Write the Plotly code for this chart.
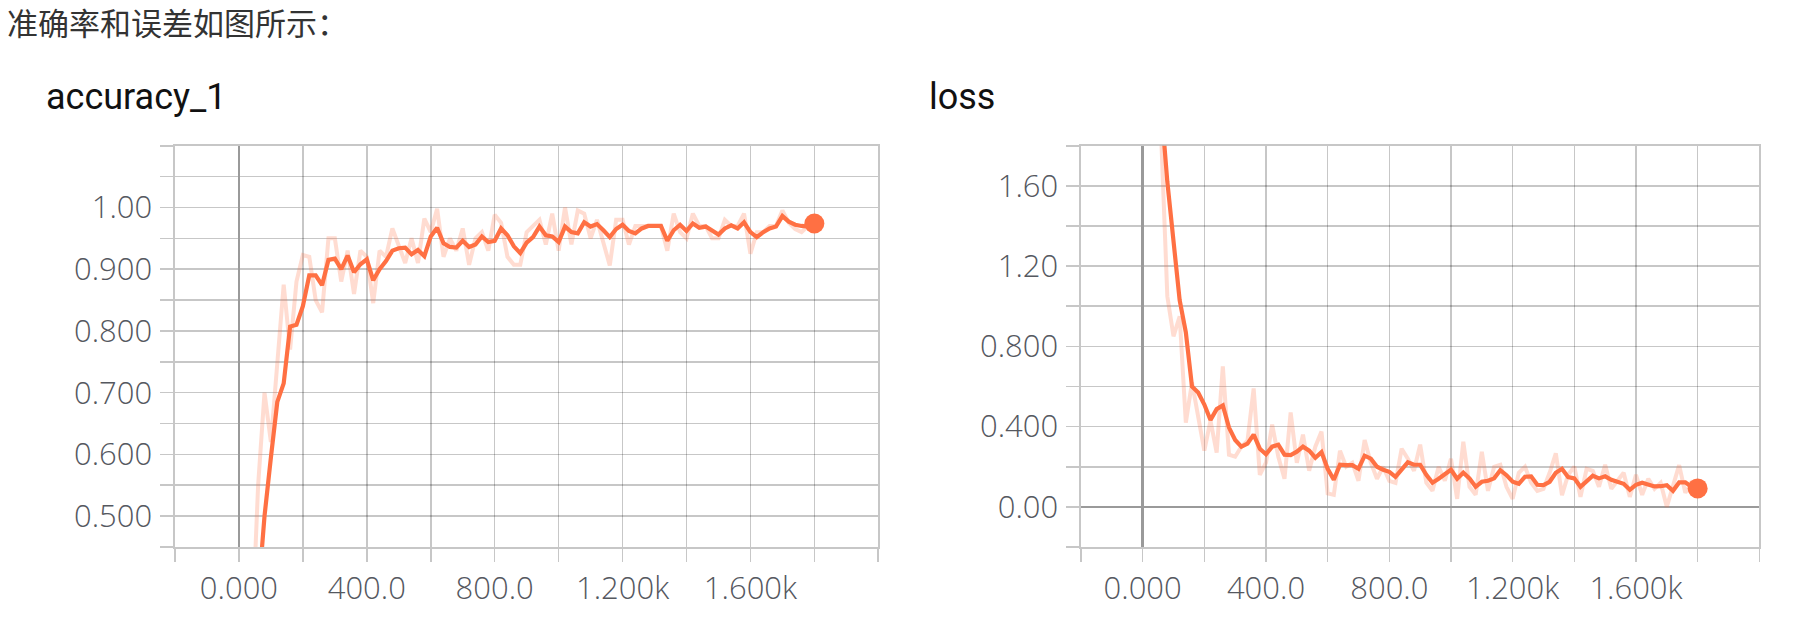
import plotly.graph_objects as go

# ---------------- data ----------------
steps = list(range(0, 1801, 20))

acc_smooth = [
    0.10, 0.16, 0.25, 0.37, 0.50, 0.595, 0.685, 0.715, 0.807, 0.81,
    0.84, 0.89, 0.89, 0.874, 0.915, 0.917, 0.90, 0.922, 0.895, 0.908,
    0.916, 0.882, 0.900, 0.913, 0.930, 0.934, 0.935, 0.924, 0.931, 0.921,
    0.953, 0.967, 0.942, 0.936, 0.935, 0.946, 0.936, 0.940, 0.953, 0.944,
    0.946, 0.966, 0.955, 0.937, 0.926, 0.943, 0.952, 0.969, 0.955, 0.953,
    0.944, 0.969, 0.960, 0.958, 0.976, 0.969, 0.973, 0.963, 0.952, 0.965,
    0.972, 0.962, 0.958, 0.966, 0.970, 0.970, 0.970, 0.946, 0.963, 0.972,
    0.962, 0.974, 0.967, 0.969, 0.962, 0.956, 0.966, 0.971, 0.966, 0.976,
    0.960, 0.952, 0.960, 0.966, 0.969, 0.986, 0.977, 0.972, 0.970, 0.969,
    0.974,
]
acc_raw = [
    0.10, 0.20, 0.30, 0.55, 0.70, 0.62, 0.74, 0.875, 0.77, 0.88,
    0.923, 0.92, 0.85, 0.83, 0.95, 0.95, 0.88, 0.93, 0.86, 0.93,
    0.92, 0.845, 0.93, 0.92, 0.966, 0.94, 0.91, 0.95, 0.91, 0.982,
    0.96, 0.998, 0.92, 0.95, 0.93, 0.966, 0.907, 0.95, 0.96, 0.93,
    0.988, 0.975, 0.92, 0.907, 0.907, 0.96, 0.97, 0.98, 0.94, 0.99,
    0.93, 1.00, 0.94, 0.995, 0.99, 0.95, 0.98, 0.94, 0.906, 0.98,
    0.98, 0.94, 0.97, 0.97, 0.97, 0.97, 0.97, 0.93, 0.99, 0.96,
    0.95, 0.99, 0.97, 0.97, 0.95, 0.95, 0.98, 0.97, 0.97, 0.99,
    0.925, 0.96, 0.96, 0.97, 0.97, 0.995, 0.975, 0.965, 0.96, 0.97,
    0.975,
]
loss_smooth = [
    2.30, 2.28, 2.20, 2.00, 1.62, 1.34, 1.03, 0.87, 0.60, 0.57,
    0.51, 0.433, 0.487, 0.505, 0.395, 0.333, 0.300, 0.315, 0.360, 0.290,
    0.262, 0.300, 0.310, 0.260, 0.258, 0.275, 0.300, 0.280, 0.245, 0.273,
    0.190, 0.135, 0.210, 0.208, 0.208, 0.190, 0.255, 0.240, 0.200, 0.185,
    0.175, 0.150, 0.190, 0.222, 0.210, 0.210, 0.160, 0.120, 0.140, 0.160,
    0.185, 0.140, 0.170, 0.142, 0.100, 0.125, 0.130, 0.142, 0.183, 0.158,
    0.125, 0.115, 0.150, 0.152, 0.110, 0.108, 0.125, 0.170, 0.190, 0.148,
    0.142, 0.100, 0.130, 0.155, 0.142, 0.152, 0.135, 0.125, 0.115, 0.085,
    0.110, 0.120, 0.110, 0.102, 0.103, 0.108, 0.080, 0.122, 0.122, 0.100,
    0.092,
]
loss_raw = [
    2.30, 2.25, 2.10, 1.85, 1.05, 0.85, 0.95, 0.42, 0.62, 0.45,
    0.28, 0.43, 0.27, 0.70, 0.26, 0.25, 0.30, 0.33, 0.59, 0.16,
    0.22, 0.41, 0.25, 0.14, 0.47, 0.22, 0.36, 0.18, 0.30, 0.375,
    0.067, 0.06, 0.28, 0.20, 0.22, 0.13, 0.333, 0.22, 0.14, 0.20,
    0.13, 0.12, 0.29, 0.24, 0.18, 0.31, 0.12, 0.08, 0.20, 0.13,
    0.24, 0.04, 0.325, 0.10, 0.06, 0.275, 0.08, 0.20, 0.21, 0.10,
    0.04, 0.17, 0.20, 0.12, 0.08, 0.09, 0.17, 0.267, 0.058, 0.16,
    0.20, 0.05, 0.19, 0.18, 0.10, 0.21, 0.09, 0.13, 0.17, 0.05,
    0.16, 0.06, 0.14, 0.09, 0.12, 0.00, 0.11, 0.208, 0.07, 0.12,
    0.09,
]

x_tickvals = [-200, 0, 200, 400, 600, 800, 1000, 1200, 1400, 1600, 1800, 2000]
x_ticktext = ["", "0.000", "", "400.0", "", "800.0", "", "1.200k", "", "1.600k", "", ""]
acc_tickvals = [0.45, 0.50, 0.55, 0.60, 0.65, 0.70, 0.75, 0.80, 0.85, 0.90, 0.95, 1.00, 1.05, 1.10]
acc_ticktext = ["", "0.500", "", "0.600", "", "0.700", "", "0.800", "", "0.900", "", "1.00", "", ""]
loss_tickvals = [-0.2, 0.0, 0.2, 0.4, 0.6, 0.8, 1.0, 1.2, 1.4, 1.6, 1.8]
loss_ticktext = ["", "0.00", "", "0.400", "", "0.800", "", "1.20", "", "1.60", ""]

heading = "准确率和误差如图所示："
titles = ["accuracy_1", "loss"]

# ---------------- style ----------------
W, H = 1804, 636
ORANGE = "#FF7043"
GRID = "rgba(0,0,0,0.22)"
ZERO = "#9a9a9a"
TICKFONT = dict(family="'Open Sans', Roboto, sans-serif", size=31, color="#55585f", weight=300)


def px_x(p):
    return p / W


def px_y(p):
    return 1 - p / H


fig = go.Figure()

# accuracy
fig.add_trace(go.Scatter(x=steps, y=acc_raw, mode="lines", xaxis="x", yaxis="y",
                         line=dict(color=ORANGE, width=4), opacity=0.24, hoverinfo="skip"))
fig.add_trace(go.Scatter(x=steps, y=acc_smooth, mode="lines", xaxis="x", yaxis="y",
                         line=dict(color=ORANGE, width=4.2)))
fig.add_trace(go.Scatter(x=[steps[-1]], y=[acc_smooth[-1]], mode="markers", xaxis="x", yaxis="y",
                         marker=dict(color=ORANGE, size=20), cliponaxis=False))
# loss
fig.add_trace(go.Scatter(x=steps, y=loss_raw, mode="lines", xaxis="x2", yaxis="y2",
                         line=dict(color=ORANGE, width=4), opacity=0.24, hoverinfo="skip"))
fig.add_trace(go.Scatter(x=steps, y=loss_smooth, mode="lines", xaxis="x2", yaxis="y2",
                         line=dict(color=ORANGE, width=4.2)))
fig.add_trace(go.Scatter(x=[steps[-1]], y=[loss_smooth[-1]], mode="markers", xaxis="x2", yaxis="y2",
                         marker=dict(color=ORANGE, size=20), cliponaxis=False))

common_x = dict(range=[-200, 2000], tickmode="array", tickvals=x_tickvals, ticktext=x_ticktext,
                showgrid=True, gridcolor=GRID, gridwidth=1.6,
                ticks="outside", ticklen=13, tickwidth=1.6, tickcolor=GRID,
                zeroline=True, zerolinecolor=ZERO, zerolinewidth=2.6,
                showline=True, mirror=True, linecolor=GRID, linewidth=1.6,
                tickfont=TICKFONT, ticklabelstandoff=0, fixedrange=True)
common_y = dict(tickmode="array", showgrid=True, gridcolor=GRID, gridwidth=1.6,
                ticks="outside", ticklen=13, tickwidth=1.6, tickcolor=GRID,
                zeroline=True, zerolinecolor=ZERO, zerolinewidth=2.6,
                showline=True, mirror=True, linecolor=GRID, linewidth=1.6,
                tickfont=TICKFONT, ticklabelstandoff=2, fixedrange=True)

y_dom = [px_y(547), px_y(145.7)]

fig.update_layout(
    width=W, height=H,
    margin=dict(l=0, r=0, t=0, b=0),
    paper_bgcolor="white", plot_bgcolor="white",
    showlegend=False,
    xaxis=dict(common_x, domain=[px_x(175), px_x(878.3)], anchor="y"),
    yaxis=dict(common_y, domain=y_dom, anchor="x", range=[0.45, 1.10],
               tickvals=acc_tickvals, ticktext=acc_ticktext),
    xaxis2=dict(common_x, domain=[px_x(1081), px_x(1759.3)], anchor="y2"),
    yaxis2=dict(common_y, domain=y_dom, anchor="x2", range=[-0.2, 1.8],
                tickvals=loss_tickvals, ticktext=loss_ticktext),
    annotations=[
        dict(text=heading, x=px_x(5), y=px_y(21), xref="paper", yref="paper",
             xanchor="left", yanchor="middle", showarrow=False,
             font=dict(family="Noto Sans CJK SC", size=31, color="#333333")),
        dict(text=titles[0], x=px_x(44), y=px_y(97), xref="paper", yref="paper",
             xanchor="left", yanchor="middle", showarrow=False,
             font=dict(family="Roboto, sans-serif", size=36, color="#111111")),
        dict(text=titles[1], x=px_x(927), y=px_y(97), xref="paper", yref="paper",
             xanchor="left", yanchor="middle", showarrow=False,
             font=dict(family="Roboto, sans-serif", size=36, color="#111111")),
    ],
)

fig.write_html("out.html",
               config={"displayModeBar": False, "staticPlot": True},
               post_script="document.body.style.margin='0px';document.body.style.overflow='hidden';")
